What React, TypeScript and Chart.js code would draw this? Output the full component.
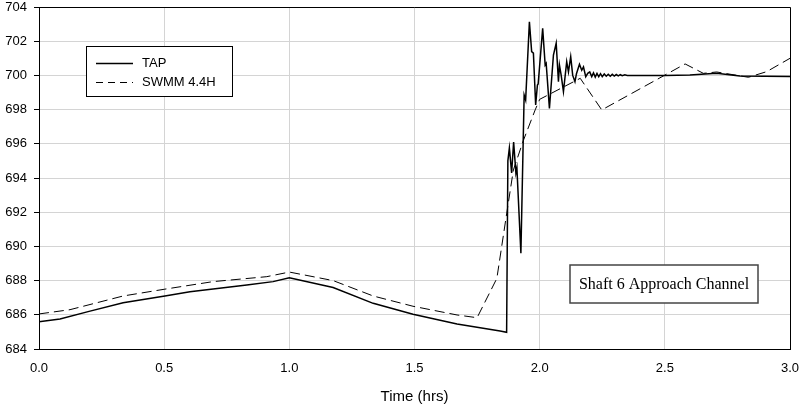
import React, { useEffect, useRef } from "react";
import { Chart, registerables } from "chart.js";

Chart.register(...registerables);

const tapTime = [
  0, 0.084, 0.2, 0.336, 0.503, 0.603, 0.83, 0.935, 1.0, 1.175, 1.335, 1.494, 1.67, 1.842, 1.868,
  1.873, 1.879, 1.888, 1.896, 1.905, 1.909, 1.925, 1.938, 1.944, 1.959, 1.968, 1.975, 1.984, 1.991,
  1.994, 2.012, 2.022, 2.026, 2.039, 2.055, 2.066, 2.075, 2.079, 2.086, 2.095, 2.108, 2.115, 2.124,
  2.132, 2.141, 2.147, 2.159, 2.168, 2.175, 2.184, 2.192, 2.2, 2.208, 2.215, 2.222, 2.229, 2.236,
  2.243, 2.25, 2.258, 2.266, 2.274, 2.282, 2.29, 2.298, 2.306, 2.314, 2.322, 2.33, 2.34, 2.35,
  2.5, 2.6, 2.707, 2.8, 3.0,
];
const tapLevel = [
  685.6, 685.75, 686.2, 686.7, 687.1, 687.35, 687.74, 687.94, 688.17, 687.6, 686.67, 686.03, 685.46, 685.05, 684.98,
  695.0, 695.75, 694.3, 696.1, 694.3, 694.6, 689.6, 698.85, 698.56, 703.14, 701.39, 701.3, 698.27, 699.44,
  699.5, 702.75, 700.6, 700.7, 698.07, 701.19, 701.88, 699.63, 700.6, 700.0, 699.05, 700.8, 700.2, 701.09,
  700.0, 699.63, 700.1, 700.65, 700.3, 700.5, 699.92, 700.12, 700.2, 699.93, 700.15, 699.9, 700.12, 699.92,
  700.1, 699.93, 700.08, 699.95, 700.07, 699.95, 700.06, 699.96, 700.05, 699.97, 700.04, 699.98, 700.03, 700.0,
  700.0, 700.02, 700.12, 699.96, 699.93,
];

const swmmTime = [
  0, 0.124, 0.336, 0.503, 0.695, 0.91, 1.0, 1.175, 1.335, 1.494, 1.67, 1.75, 1.829, 1.868, 1.895,
  1.935, 1.982, 2.0, 2.162, 2.248, 2.581, 2.654, 2.707, 2.834, 2.907, 3.0,
];
const swmmLevel = [
  686.05, 686.3, 687.1, 687.5, 687.94, 688.23, 688.5, 688.0, 687.1, 686.5, 685.99, 685.83, 688.13, 691.9, 694.47,
  696.2, 697.98, 698.6, 699.83, 697.98, 700.67, 700.12, 700.2, 699.89, 700.22, 701.0,
];

const seriesNames = ["TAP", "SWMM 4.4H"];
const annotationText = "Shaft 6 Approach Channel";
const xTitle = "Time (hrs)";

const SANS = "'Liberation Sans', Arial, sans-serif";
const SERIF = "'Liberation Serif', 'Times New Roman', serif";

const framePlugin = {
  id: "frame",
  afterDraw(chart: any) {
    const { ctx, chartArea } = chart;
    const { left, right, top, bottom } = chartArea;
    ctx.save();
    ctx.strokeStyle = "#000";
    ctx.lineWidth = 1;
    ctx.beginPath();
    ctx.moveTo(left, top + 0.5);
    ctx.lineTo(right + 0.5, top + 0.5);
    ctx.lineTo(right + 0.5, bottom);
    ctx.stroke();

    // legend box
    const lx = 86.5, ly = 46.5, lw = 146, lh = 50;
    ctx.fillStyle = "#fff";
    ctx.fillRect(lx, ly, lw, lh);
    ctx.strokeStyle = "#000";
    ctx.lineWidth = 1;
    ctx.strokeRect(lx, ly, lw, lh);
    ctx.font = `13px ${SANS}`;
    ctx.fillStyle = "#000";
    ctx.textBaseline = "middle";
    ctx.textAlign = "left";
    ctx.lineWidth = 1.3;
    ctx.beginPath();
    ctx.moveTo(96, 63.5);
    ctx.lineTo(133, 63.5);
    ctx.stroke();
    ctx.fillText(seriesNames[0], 142, 63);
    ctx.setLineDash([7, 5]);
    ctx.lineWidth = 1;
    ctx.beginPath();
    ctx.moveTo(96, 82.5);
    ctx.lineTo(133, 82.5);
    ctx.stroke();
    ctx.setLineDash([]);
    ctx.fillText(seriesNames[1], 142, 82);

    // annotation box
    const ax = 570, ay = 265, aw = 188, ah = 38;
    ctx.fillStyle = "#fff";
    ctx.fillRect(ax, ay, aw, ah);
    ctx.strokeStyle = "#444";
    ctx.lineWidth = 1.5;
    ctx.strokeRect(ax, ay, aw, ah);
    ctx.fillStyle = "#000";
    ctx.font = `16px ${SERIF}`;
    ctx.textAlign = "center";
    ctx.fillText(annotationText, ax + aw / 2, ay + ah / 2 + 1);
    ctx.restore();
  },
};

export default function App() {
  const ref = useRef<HTMLCanvasElement>(null);
  useEffect(() => {
    document.body.style.margin = "0";
    const tap = tapTime.map((t, i) => ({ x: t, y: tapLevel[i] }));
    const swmm = swmmTime.map((t, i) => ({ x: t, y: swmmLevel[i] }));
    const chart = new Chart(ref.current as HTMLCanvasElement, {
      type: "line",
      data: {
        datasets: [
          {
            label: seriesNames[0],
            data: tap,
            borderColor: "#000",
            borderWidth: 1.5,
            pointRadius: 0,
            tension: 0,
            fill: false,
          },
          {
            label: seriesNames[1],
            data: swmm,
            borderColor: "#000",
            borderWidth: 1,
            borderDash: [10, 5],
            pointRadius: 0,
            tension: 0,
            fill: false,
          },
        ],
      },
      options: {
        animation: false,
        responsive: true,
        maintainAspectRatio: false,
        layout: { padding: { top: 7, right: 15, left: 0, bottom: 0 } },
        plugins: { legend: { display: false }, tooltip: { enabled: false } },
        scales: {
          x: {
            type: "linear",
            min: 0,
            max: 3,
            afterFit(scale: any) {
              scale.height = 61;
              scale.paddingLeft = 0;
              scale.paddingRight = 0;
            },
            ticks: {
              stepSize: 0.5,
              color: "#000",
              font: { family: SANS, size: 13 },
              padding: 12,
              maxRotation: 0,
              callback: (v: any) => Number(v).toFixed(1),
            },
            grid: { color: "#d4d4d4", lineWidth: 1, drawTicks: false },
            border: { color: "#000", width: 1 },
            title: {
              display: true,
              text: xTitle,
              color: "#000",
              font: { family: SANS, size: 15 },
              padding: { top: 0, bottom: 4 },
            },
          },
          y: {
            min: 684,
            max: 704,
            afterFit(scale: any) {
              scale.width = 39;
              scale.paddingTop = 0;
              scale.paddingBottom = 0;
            },
            ticks: {
              stepSize: 2,
              color: "#000",
              font: { family: SANS, size: 13 },
              padding: 7,
            },
            grid: { color: "#d4d4d4", lineWidth: 1, tickColor: "#000", tickLength: 5 },
            border: { color: "#000", width: 1 },
          },
        },
      },
      plugins: [framePlugin],
    });
    return () => chart.destroy();
  }, []);
  return (
    <div style={{ width: 805, height: 410, position: "relative" }}>
      <canvas ref={ref} />
    </div>
  );
}
